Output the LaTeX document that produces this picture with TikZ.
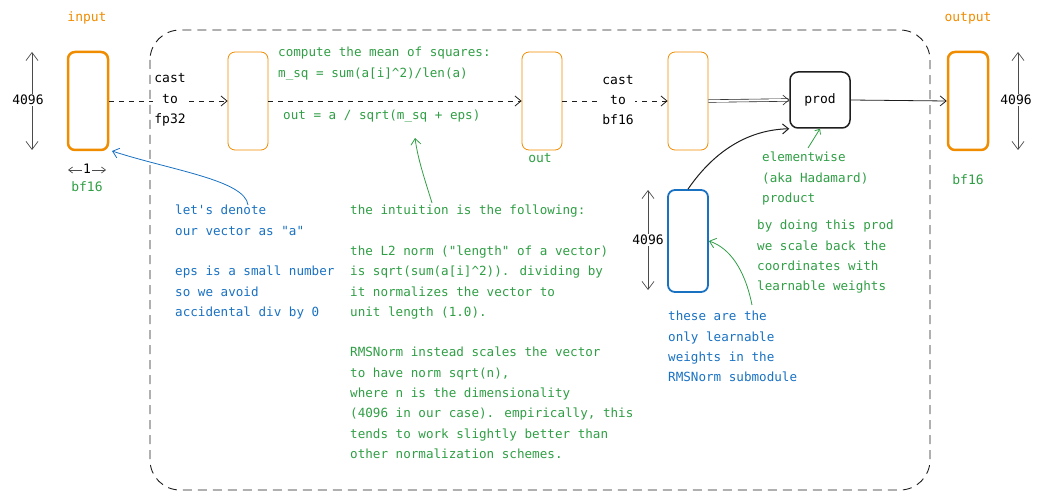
\documentclass[tikz,border=0pt]{standalone}
\usepackage{fontspec}
\setmainfont{DejaVu Sans Mono}[Ligatures=ResetAll]
\usetikzlibrary{arrows.meta}
\definecolor{org}{HTML}{F08C00}
\definecolor{grn}{HTML}{2F9E44}
\definecolor{blu}{HTML}{1971C2}
\definecolor{ink}{HTML}{1E1E1E}
\begin{document}
\begin{tikzpicture}[x=1pt,y=-1pt,
  txt/.style={font=\fontsize{12.6}{20.3}\selectfont,align=left,inner sep=0pt,anchor=north west},
  ctxt/.style={font=\fontsize{13}{20.3}\selectfont,align=center,inner sep=0pt},
  vec/.style={draw=org,rounded corners=7pt,minimum width=40pt,minimum height=98pt,inner sep=0pt},
  thick vec/.style={vec,line width=2.5pt},
  thin vec/.style={vec,line width=0.8pt},
  arr/.style={-{Straight Barb[length=6pt,width=10pt]},line width=0.8pt,draw=ink},
  darr/.style={arr,dashed,dash pattern=on 5pt off 5pt},
  dbl/.style={{Straight Barb[length=8pt,width=12pt]}-{Straight Barb[length=8pt,width=12pt]},line width=0.7pt,draw=ink!80}]
\useasboundingbox (0,0) rectangle (1044,500);
\draw[ink,line width=0.9pt,dash pattern=on 9pt off 6pt,rounded corners=30pt] (150,30) rectangle (930,490);
% input
\node[ctxt,text=org] (inl) at (87,18) {input};
\node[thick vec] (in) at (88,101) {};
\coordinate (ia) at (32,52); \coordinate (ib) at (32,150);
\draw[dbl] (ia) -- (ib);
\node[ctxt,fill=white,inner sep=1pt] (i4) at (28,100) {4096};
\coordinate (wa) at (68,170); \coordinate (wb) at (106,170);
\draw[dbl,{Straight Barb[length=4pt,width=6pt]}-{Straight Barb[length=4pt,width=6pt]}] (wa) -- (wb);
\node[ctxt,fill=white,inner sep=1pt] (w1) at (87,169) {1};
\node[ctxt,text=grn] (ibf) at (87,187) {bf16};
% boxes
\node[thin vec] (b2) at (248,101) {};
\node[thin vec] (b3) at (542,101) {};
\node[thin vec] (b4) at (688,101) {};
\node[draw=ink,line width=1.5pt,rounded corners=8pt,minimum width=60pt,minimum height=56pt,font=\fontsize{13}{20}\selectfont] (prod) at (820,100) {prod};
\node[thick vec] (out) at (968,101) {};
\node[ctxt,text=org] (outl) at (968,18) {output};
\node[ctxt,text=grn] (obf) at (968,180) {bf16};
\coordinate (oa) at (1018,52); \coordinate (ob) at (1018,150);
\draw[dbl] (oa) -- (ob);
\node[ctxt,fill=white,inner sep=1pt] (o4) at (1016,100) {4096};
% weights
\node[draw=blu,line width=1.8pt,rounded corners=7pt,minimum width=40pt,minimum height=102pt] (w) at (688,241) {};
\coordinate (wva) at (648,190); \coordinate (wvb) at (648,290);
\draw[dbl] (wva) -- (wvb);
\node[ctxt,fill=white,inner sep=1pt] (w4) at (648,240) {4096};
% connectors
\draw[darr] (in.east) -- (b2.west);
\node[ctxt,fill=white,inner sep=1pt] (c1) at (170,100) {cast\\to\\fp32};
\draw[darr] (b2.east) -- (b3.west);
\draw[darr] (b3.east) -- (b4.west);
\node[ctxt,fill=white,inner sep=1pt] (c2) at (618,100) {cast\\to\\bf16};
\draw[arr,double,double distance=2pt,line width=0.6pt] (b4.east) -- (prod.west);
\draw[arr,line width=1pt] (w.north) .. controls (708,160) and (740,130) .. (prod.south west);
\draw[arr] (prod.east) -- (out.west);
% texts
\node[txt,text=grn] (t1) at (278,47) {compute the mean of squares:\\m\_sq = sum(a[i]\^{}2)/len(a)};
\node[txt,text=grn] (t2) at (283,110) {out = a / sqrt(m\_sq + eps)};
\node[ctxt,text=grn] (t3) at (540,158) {out};
\node[txt,text=grn] (t4) at (762,152) {elementwise\\(aka Hadamard)\\product};
\coordinate (t4a) at (808,148);
\draw[arr,draw=grn,-{Straight Barb[length=4pt,width=7pt]}] (t4a) -- (prod.south);
\node[txt,text=blu] (t5) at (175,205) {let\textquotesingle s denote\\our vector as \textquotedbl a\textquotedbl\\\\eps is a small number\\so we avoid\\accidental div by 0};
\coordinate (t5a) at (248,205);
\draw[arr,draw=blu] (t5a) .. controls (245,180) and (170,170) .. (112,151);
\node[txt,text=grn] (t6) at (350,205) {the intuition is the following:\\\\the L2 norm (\textquotedbl length\textquotedbl{} of a vector)\\is sqrt(sum(a[i]\^{}2)). dividing by\\it normalizes the vector to\\unit length (1.0).\\\\RMSNorm instead scales the vector\\to have norm sqrt(n),\\where n is the dimensionality\\(4096 in our case). empirically, this\\tends to work slightly better than\\other normalization schemes.};
\coordinate (t6a) at (432,203); \coordinate (t6b) at (415,138);
\draw[arr,draw=grn] (t6a) .. controls (425,180) and (418,160) .. (t6b);
\node[txt,text=grn] (t7) at (757,220) {by doing this prod\\we scale back the\\coordinates with\\learnable weights};
\node[txt,text=blu] (t8) at (668,311) {these are the\\only learnable\\weights in the\\RMSNorm submodule};
\coordinate (t8a) at (752,305);
\draw[arr,draw=grn] (t8a) .. controls (745,270) and (730,248) .. (w.east);
\end{tikzpicture}
\end{document}
